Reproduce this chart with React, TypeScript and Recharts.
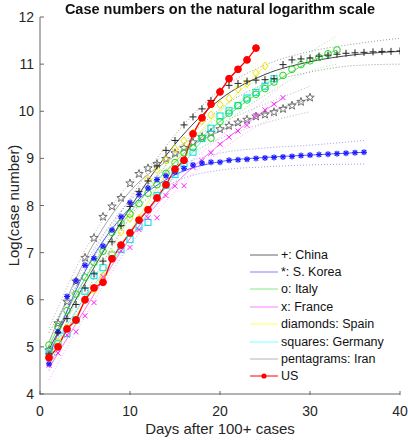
import React from "react";
import { ComposedChart, Line, XAxis, YAxis, Legend } from "recharts";

// ---- data (natural log of cumulative cases), day index starts at 1 ----
const chinaY = [4.85, 5.3, 5.6, 5.9, 6.25, 6.55, 6.82, 7.23, 7.57, 7.98, 8.3, 8.52, 8.84, 9.17, 9.38, 9.71, 9.88, 10.05, 10.23, 10.43, 10.55, 10.59, 10.64, 10.66, 10.67, 10.69, 10.99, 11.09, 11.11, 11.13, 11.17, 11.19, 11.21, 11.23, 11.24, 11.25, 11.26, 11.27, 11.27, 11.28];
const koreaY = [4.64, 5.32, 6.07, 6.4, 6.73, 6.88, 7.14, 7.48, 7.76, 8.06, 8.23, 8.37, 8.55, 8.63, 8.71, 8.79, 8.86, 8.9, 8.92, 8.92, 8.96, 8.97, 8.98, 9.0, 9.01, 9.02, 9.03, 9.04, 9.06, 9.07, 9.08, 9.09, 9.1, 9.11, 9.12, 9.13];
const italyY = [5.04, 5.43, 5.77, 6.12, 6.48, 6.79, 7.03, 7.43, 7.62, 7.82, 8.04, 8.26, 8.44, 8.68, 8.91, 9.12, 9.23, 9.43, 9.43, 9.78, 9.96, 10.12, 10.24, 10.36, 10.48, 10.62, 10.76, 10.89, 10.99, 11.07, 11.14, 11.22, 11.3];
const franceY = [4.61, 4.87, 5.25, 5.32, 5.66, 5.94, 6.49, 6.87, 7.04, 7.11, 7.49, 7.74, 7.74, 8.21, 8.41, 8.42, 8.81, 8.95, 9.12, 9.3, 9.45, 9.58, 9.7, 9.91, 10.03, 10.15, 10.29];
const spainY = [4.79, 5.11, 5.4, 5.56, 5.99, 6.21, 6.51, 6.98, 7.44, 7.73, 7.73, 8.56, 8.76, 8.96, 9.2, 9.37, 9.54, 9.8, 9.92, 10.14, 10.27, 10.47, 10.59, 10.81, 10.96];
const germanyY = [4.87, 5.07, 5.28, 5.57, 6.18, 6.51, 6.68, 6.95, 7.07, 7.28, 7.55, 7.64, 8.21, 8.43, 8.66, 8.89, 9.13, 9.42, 9.64, 9.9, 10.01, 10.12, 10.28, 10.4, 10.53, 10.69];
const iranY = [4.93, 5.5, 5.96, 6.39, 6.89, 7.31, 7.76, 7.98, 8.16, 8.47, 8.67, 8.79, 8.88, 8.99, 9.11, 9.22, 9.34, 9.45, 9.54, 9.62, 9.69, 9.76, 9.82, 9.89, 9.93, 9.98, 10.05, 10.12, 10.2, 10.29];
const usY = [4.77, 5.0, 5.38, 5.57, 6.0, 6.25, 6.37, 6.87, 7.16, 7.42, 7.69, 7.91, 8.16, 8.44, 8.77, 8.96, 9.52, 9.86, 10.15, 10.41, 10.69, 10.89, 11.09, 11.34];

// ---- fitted curves and confidence bounds (read at sparse days) ----
const chinaFitDays = [1, 5, 10, 15, 20, 25, 30, 35, 40];
const chinaFit = [4.95, 6.35, 7.95, 9.3, 10.25, 10.78, 11.05, 11.2, 11.27];
const chinaLow = [4.6, 6.1, 7.75, 9.1, 10.05, 10.58, 10.83, 10.97, 11.0];
const chinaHigh = [5.3, 6.6, 8.15, 9.5, 10.45, 10.98, 11.27, 11.43, 11.55];

const koreaFitDays = [1, 5, 10, 15, 20, 25, 30, 36];
const koreaFit = [4.8, 6.6, 7.95, 8.65, 8.93, 9.02, 9.07, 9.13];
const koreaLow = [4.5, 6.45, 7.8, 8.5, 8.75, 8.82, 8.86, 8.88];
const koreaHigh = [5.1, 6.75, 8.1, 8.8, 9.11, 9.22, 9.28, 9.38];

const italyFitDays = [1, 5, 10, 15, 20, 25, 30, 33];
const italyFit = [5.02, 6.45, 7.85, 8.92, 9.78, 10.48, 11.05, 11.3];
const italyLow = [4.75, 6.3, 7.72, 8.8, 9.66, 10.34, 10.85, 11.0];
const italyHigh = [5.3, 6.6, 7.98, 9.04, 9.9, 10.62, 11.25, 11.6];

const franceFitDays = [1, 5, 10, 15, 20, 27];
const franceFit = [4.55, 5.8, 7.3, 8.45, 9.3, 10.28];
const franceLow = [4.3, 5.65, 7.15, 8.3, 9.15, 10.0];
const franceHigh = [4.8, 5.95, 7.45, 8.6, 9.45, 10.56];

const spainFitDays = [1, 5, 10, 15, 20, 25];
const spainFit = [4.8, 5.95, 7.45, 8.95, 10.0, 10.96];
const spainLow = [4.5, 5.75, 7.25, 8.75, 9.82, 10.66];
const spainHigh = [5.1, 6.15, 7.65, 9.15, 10.18, 11.26];

const germanyFitDays = [1, 5, 10, 15, 20, 26];
const germanyFit = [4.85, 6.05, 7.3, 8.65, 9.8, 10.7];
const germanyLow = [4.6, 5.88, 7.15, 8.5, 9.63, 10.45];
const germanyHigh = [5.1, 6.22, 7.45, 8.8, 9.97, 10.95];

const iranFitDays = [1, 5, 10, 15, 20, 25, 30];
const iranFit = [5.1, 6.85, 8.3, 9.05, 9.58, 9.95, 10.27];
const iranLow = [4.8, 6.65, 8.12, 8.9, 9.42, 9.75, 9.99];
const iranHigh = [5.4, 7.05, 8.48, 9.2, 9.74, 10.15, 10.53];

const xTicks = [0, 10, 20, 30, 40];
const yTicks = [4, 5, 6, 7, 8, 9, 10, 11, 12];

const legendLabels = ["+: China", "*: S. Korea", "o: Italy", "x: France", "diamonds: Spain", "squares: Germany", "pentagrams: Iran", "US"];
const legendColors = ["#666666", "#8080ff", "#80ee80", "#ff80ff", "#ffff60", "#80ffff", "#b4b4b4", "#ff0000"];

const FONT = "'Liberation Sans', Arial, sans-serif";

const toRows = (ys: number[]) => ys.map((v, i) => ({ d: i + 1, v }));
const toSparse = (ds: number[], ys: number[]) => ds.map((d, i) => ({ d, v: ys[i] }));

type Country = {
  key: string; y: number[]; fd: number[]; fit: number[]; lo: number[]; hi: number[];
  marker: string; mc: string; lc: string; bc: string;
};

const countries: Country[] = [
  { key: "iran", y: iranY, fd: iranFitDays, fit: iranFit, lo: iranLow, hi: iranHigh, marker: "star", mc: "#6e6e6e", lc: "#a8a8a8", bc: "#b8b8b8" },
  { key: "germany", y: germanyY, fd: germanyFitDays, fit: germanyFit, lo: germanyLow, hi: germanyHigh, marker: "square", mc: "#00e0e0", lc: "#70f4f4", bc: "#9ff6f6" },
  { key: "spain", y: spainY, fd: spainFitDays, fit: spainFit, lo: spainLow, hi: spainHigh, marker: "diamond", mc: "#e8e800", lc: "#f4f460", bc: "#f4f4a0" },
  { key: "france", y: franceY, fd: franceFitDays, fit: franceFit, lo: franceLow, hi: franceHigh, marker: "x", mc: "#ff20ff", lc: "#ff70ff", bc: "#ffa8ff" },
  { key: "italy", y: italyY, fd: italyFitDays, fit: italyFit, lo: italyLow, hi: italyHigh, marker: "circle", mc: "#22d822", lc: "#66e266", bc: "#a6eca6" },
  { key: "korea", y: koreaY, fd: koreaFitDays, fit: koreaFit, lo: koreaLow, hi: koreaHigh, marker: "asterisk", mc: "#1a1aff", lc: "#5a5aff", bc: "#a0a0ee" },
  { key: "china", y: chinaY, fd: chinaFitDays, fit: chinaFit, lo: chinaLow, hi: chinaHigh, marker: "plus", mc: "#222222", lc: "#444444", bc: "#9a9a9a" },
];

const makeDot = (kind: string, color: string) => (props: any) => {
  const { cx, cy, index } = props;
  const k = `${kind}-${index}`;
  if (cx == null || cy == null) return <g key={k} />;
  const sw = 1;
  switch (kind) {
    case "plus":
      return (
        <g key={k} stroke={color} strokeWidth={sw}>
          <line x1={cx - 3.5} y1={cy} x2={cx + 3.5} y2={cy} />
          <line x1={cx} y1={cy - 3.5} x2={cx} y2={cy + 3.5} />
        </g>
      );
    case "asterisk":
      return (
        <g key={k} stroke={color} strokeWidth={1.2}>
          <line x1={cx - 3} y1={cy} x2={cx + 3} y2={cy} />
          <line x1={cx} y1={cy - 3} x2={cx} y2={cy + 3} />
          <line x1={cx - 2.2} y1={cy - 2.2} x2={cx + 2.2} y2={cy + 2.2} />
          <line x1={cx - 2.2} y1={cy + 2.2} x2={cx + 2.2} y2={cy - 2.2} />
        </g>
      );
    case "x":
      return (
        <g key={k} stroke={color} strokeWidth={sw}>
          <line x1={cx - 2.5} y1={cy - 2.5} x2={cx + 2.5} y2={cy + 2.5} />
          <line x1={cx - 2.5} y1={cy + 2.5} x2={cx + 2.5} y2={cy - 2.5} />
        </g>
      );
    case "circle":
      return <circle key={k} cx={cx} cy={cy} r={3.3} fill="none" stroke={color} strokeWidth={sw} />;
    case "square":
      return <rect key={k} x={cx - 3} y={cy - 3} width={6} height={6} fill="none" stroke={color} strokeWidth={sw} />;
    case "diamond":
      return <polygon key={k} points={`${cx},${cy - 4} ${cx + 3.2},${cy} ${cx},${cy + 4} ${cx - 3.2},${cy}`} fill="none" stroke={color} strokeWidth={sw} />;
    case "star": {
      const pts: string[] = [];
      for (let i = 0; i < 10; i++) {
        const r = i % 2 === 0 ? 4.4 : 1.8;
        const a = -Math.PI / 2 + (i * Math.PI) / 5;
        pts.push(`${cx + r * Math.cos(a)},${cy + r * Math.sin(a)}`);
      }
      return <polygon key={k} points={pts.join(" ")} fill="none" stroke={color} strokeWidth={sw} />;
    }
    case "filled":
      return <circle key={k} cx={cx} cy={cy} r={3.4} fill={color} stroke={color} strokeWidth={1} />;
    default:
      return <g key={k} />;
  }
};

const YTick = (props: any) => {
  const { x, y, payload } = props;
  return (
    <g>
      <line x1={x + 5} y1={y} x2={x + 9} y2={y} stroke="#666" strokeWidth={1} />
      <text x={x - 1} y={y} dy={5} textAnchor="end" fontSize={14} fontFamily={FONT} fill="#262626">{payload.value}</text>
    </g>
  );
};

const XTick = (props: any) => {
  const { x, y, payload } = props;
  return (
    <g>
      <line x1={x} y1={y - 1} x2={x} y2={y - 5} stroke="#666" strokeWidth={1} />
      <text x={x} y={y} dy={20} textAnchor="middle" fontSize={14} fontFamily={FONT} fill="#262626">{payload.value}</text>
    </g>
  );
};

const LegendContent = () => (
  <div style={{ fontFamily: FONT, fontSize: 12.5, color: "#111" }}>
    {legendLabels.map((lab, i) => (
      <div key={lab} style={{ display: "flex", alignItems: "center", height: 17.4 }}>
        <svg width={30} height={10} style={{ display: "block" }}>
          <line x1={2} y1={5} x2={30} y2={5} stroke={legendColors[i]} strokeWidth={1} />
          {i === legendLabels.length - 1 ? <circle cx={16} cy={5} r={2.6} fill="#ff0000" /> : null}
        </svg>
        <span style={{ marginLeft: 3, whiteSpace: "nowrap" }}>{lab}</span>
      </div>
    ))}
  </div>
);

export default function App() {
  return (
    <div style={{ position: "fixed", left: 0, top: 0, width: 408, height: 440, background: "#fff" }}>
      <div style={{ position: "absolute", left: 20, top: 1, width: 400, textAlign: "center", fontFamily: FONT, fontWeight: "bold", fontSize: 14.5, lineHeight: "17px", color: "#111", zIndex: 2 }}>
        Case numbers on the natural logarithm scale
      </div>
      <ComposedChart width={408} height={440} margin={{ top: 17, right: 8, bottom: 0, left: 0 }}>
        <XAxis
          type="number" dataKey="d" domain={[0, 40]} ticks={xTicks} allowDataOverflow
          height={46} tickLine={false} tickSize={0} tick={<XTick />} stroke="#666"
          label={{
            content: (p: any) => {
              const vb = p.viewBox;
              return <text x={vb.x + vb.width / 2} y={vb.y + 40} textAnchor="middle" fontSize={15} fontFamily={FONT} fill="#262626">Days after 100+ cases</text>;
            },
          }}
        />
        <YAxis
          type="number" domain={[4, 12]} ticks={yTicks} allowDataOverflow
          width={40} tickLine={false} tickSize={0} tickMargin={5} tick={<YTick />} stroke="#666"
          label={{
            content: (p: any) => {
              const vb = p.viewBox;
              const cx = vb.x + 19;
              const cy = vb.y + vb.height / 2;
              return <text x={cx} y={cy} transform={`rotate(-90 ${cx} ${cy})`} textAnchor="middle" fontSize={15} fontFamily={FONT} fill="#262626">Log(case number)</text>;
            },
          }}
        />
        <Legend layout="vertical" align="center" verticalAlign="middle" content={<LegendContent />} wrapperStyle={{ left: 248, top: 246, width: 160, height: 140 }} />

        {countries.map((c) => (
          <Line key={c.key + "-lo"} data={toSparse(c.fd, c.lo)} dataKey="v" type="monotone" stroke={c.bc} strokeWidth={1} strokeDasharray="1 2" dot={false} isAnimationActive={false} legendType="none" />
        ))}
        {countries.map((c) => (
          <Line key={c.key + "-hi"} data={toSparse(c.fd, c.hi)} dataKey="v" type="monotone" stroke={c.bc} strokeWidth={1} strokeDasharray="1 2" dot={false} isAnimationActive={false} legendType="none" />
        ))}
        {countries.map((c) => (
          <Line key={c.key + "-fit"} data={toSparse(c.fd, c.fit)} dataKey="v" type="monotone" stroke={c.lc} strokeWidth={1} dot={false} isAnimationActive={false} legendType="none" />
        ))}
        {countries.map((c) => (
          <Line key={c.key + "-pts"} data={toRows(c.y)} dataKey="v" stroke="none" dot={makeDot(c.marker, c.mc)} activeDot={false} isAnimationActive={false} legendType="none" />
        ))}
        <Line data={toRows(usY)} dataKey="v" type="linear" stroke="#ff0000" strokeWidth={1.3} dot={makeDot("filled", "#ff0000")} activeDot={false} isAnimationActive={false} legendType="none" />
      </ComposedChart>
    </div>
  );
}
